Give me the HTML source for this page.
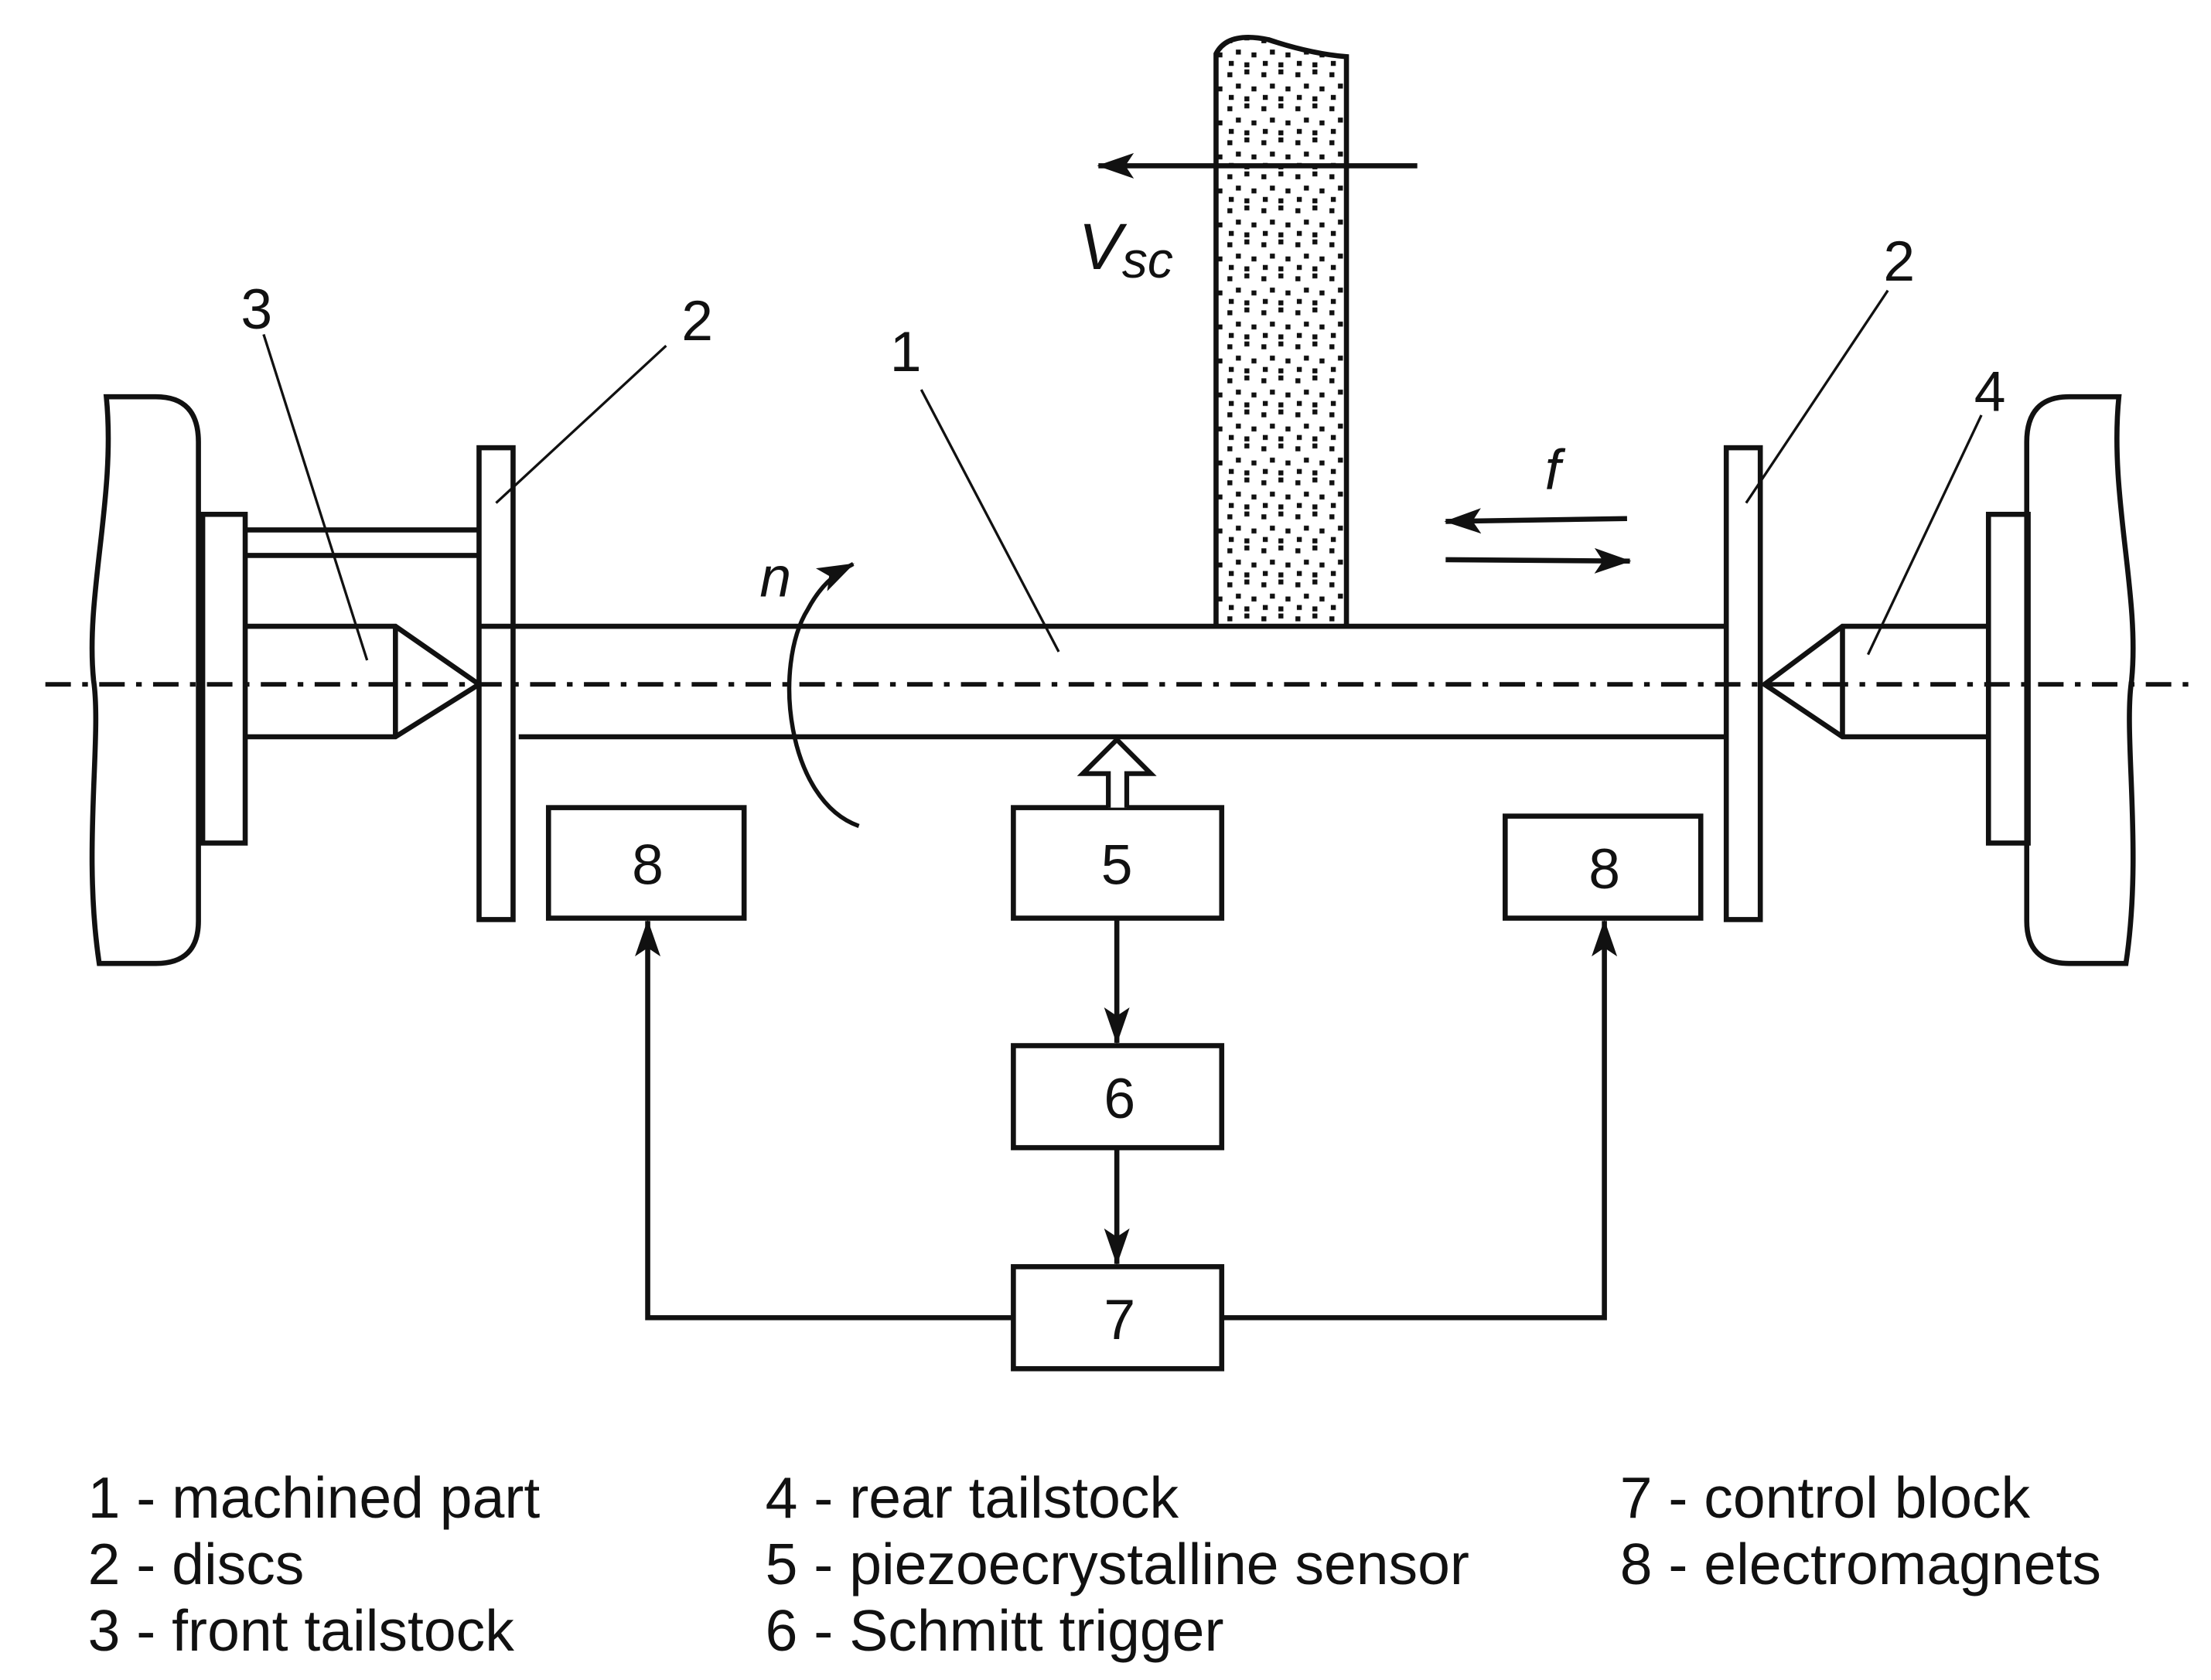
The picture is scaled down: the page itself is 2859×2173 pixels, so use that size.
<!DOCTYPE html>
<html><head><meta charset="utf-8"><style>
html,body{margin:0;padding:0;background:#fff;}
svg{display:block;}
text{font-family:"Liberation Sans",Arial,sans-serif;fill:#111;}
</style></head><body>
<svg width="2859" height="2173" viewBox="0 0 1560 1185.7" xmlns="http://www.w3.org/2000/svg">
<defs>
<pattern id="dots" width="24" height="24" patternUnits="userSpaceOnUse">
<rect x="2" y="3" width="3.5" height="3.5" fill="#111"/>
<rect x="14" y="1" width="3.5" height="3.5" fill="#111"/>
<rect x="8" y="11" width="3.5" height="3.5" fill="#111"/>
<rect x="19" y="13" width="3.5" height="3.5" fill="#111"/>
<rect x="3" y="19" width="3.5" height="3.5" fill="#111"/>
<rect x="14" y="20" width="3.5" height="3.5" fill="#111"/>
</pattern>
<marker id="ah" viewBox="0 0 26 18" refX="25" refY="9" markerWidth="26" markerHeight="18" markerUnits="userSpaceOnUse" orient="auto">
<path d="M0,0 L26,9 L0,18 L6,9 Z" fill="#111"/>
</marker>
</defs>
<g fill="none" stroke="#111" stroke-width="3.6">
<path d="M75,280 L110,280 Q140,280 140,312 L140,650 Q140,680 110,680 L70,680 C58,600 72,520 66,480 C60,420 82,350 75,280 Z"/>
<path d="M1485,280 L1450,280 Q1420,280 1420,312 L1420,650 Q1420,680 1450,680 L1490,680 C1502,600 1488,520 1494,480 C1500,420 1478,350 1485,280 Z" transform="translate(10,0)"/>
<rect x="143" y="363" width="30" height="232"/>
<line x1="173" y1="374" x2="338" y2="374"/>
<line x1="173" y1="392" x2="338" y2="392"/>
<path d="M173,442 L279,442 L338,483 L279,520 L173,520"/>
<line x1="279" y1="442" x2="279" y2="520"/>
<rect x="338" y="316" width="24" height="333"/>
<line x1="338" y1="442" x2="1218" y2="442"/>
<line x1="366" y1="520" x2="1218" y2="520"/>
<rect x="1218" y="316" width="24" height="333"/>
<path d="M1403,442 L1300,442 L1245,483 L1300,520 L1403,520"/>
<line x1="1300" y1="442" x2="1300" y2="520"/>
<rect x="1403" y="363" width="28" height="232"/>
<path d="M858,442 L858,38 Q866,22 895,28 Q925,38 950,40 L950,442" fill="url(#dots)"/>
<rect x="387" y="570" width="138" height="78"/>
<rect x="715" y="570" width="147" height="78"/>
<rect x="1062" y="576" width="138" height="72"/>
<rect x="715" y="738" width="147" height="72"/>
<rect x="715" y="894" width="147" height="72"/>
<line x1="788" y1="648" x2="788" y2="736" marker-end="url(#ah)"/>
<line x1="788" y1="810" x2="788" y2="892" marker-end="url(#ah)"/>
<polyline points="715,930 457,930 457,650" marker-end="url(#ah)"/>
<polyline points="862,930 1132,930 1132,650" marker-end="url(#ah)"/>
<path d="M782,570 L782,546 L764,546 L788,522 L812,546 L795,546 L795,570" fill="#fff" stroke-width="3.4"/>
<line x1="1000" y1="117" x2="775" y2="117" marker-end="url(#ah)"/>
<line x1="1148" y1="366" x2="1020" y2="368" marker-end="url(#ah)"/>
<line x1="1020" y1="395" x2="1150" y2="396" marker-end="url(#ah)"/>
<path d="M606,583 C555,565 545,470 570,430 C578,415 588,405 602,398" marker-end="url(#ah)" stroke-width="3"/>
<g stroke-width="1.8">
<line x1="186" y1="236" x2="259" y2="466"/>
<line x1="470" y1="244" x2="350" y2="355"/>
<line x1="650" y1="275" x2="747" y2="460"/>
<line x1="1332" y1="205" x2="1232" y2="355"/>
<line x1="1398" y1="293" x2="1318" y2="462"/>
</g>
<line x1="32" y1="483" x2="1548" y2="483" stroke-width="3.2" stroke-dasharray="18 8 4 8"/>
</g>
<g font-size="40">
<text x="457" y="624" text-anchor="middle">8</text>
<text x="788" y="624" text-anchor="middle">5</text>
<text x="1132" y="627" text-anchor="middle">8</text>
<text x="790" y="789" text-anchor="middle">6</text>
<text x="790" y="945" text-anchor="middle">7</text>
<text x="181" y="232" text-anchor="middle">3</text>
<text x="492" y="240" text-anchor="middle">2</text>
<text x="639" y="262" text-anchor="middle">1</text>
<text x="1340" y="198" text-anchor="middle">2</text>
<text x="1404" y="290" text-anchor="middle">4</text>
<text x="536" y="421" font-style="italic" font-size="40">n</text>
<text x="1090" y="345" font-style="italic" font-size="40">f</text>
<text x="761" y="190" font-style="italic" font-size="46">V<tspan font-size="36" dy="6">sc</tspan></text>
</g>
<g font-size="41">
<text x="62" y="1071">1 - machined part</text>
<text x="62" y="1118">2 - discs</text>
<text x="62" y="1165">3 - front tailstock</text>
<text x="540" y="1071">4 - rear tailstock</text>
<text x="540" y="1118">5 - piezoecrystalline sensor</text>
<text x="540" y="1165">6 - Schmitt trigger</text>
<text x="1143" y="1071">7 - control block</text>
<text x="1143" y="1118">8 - electromagnets</text>
</g>
</svg>
</body></html>
